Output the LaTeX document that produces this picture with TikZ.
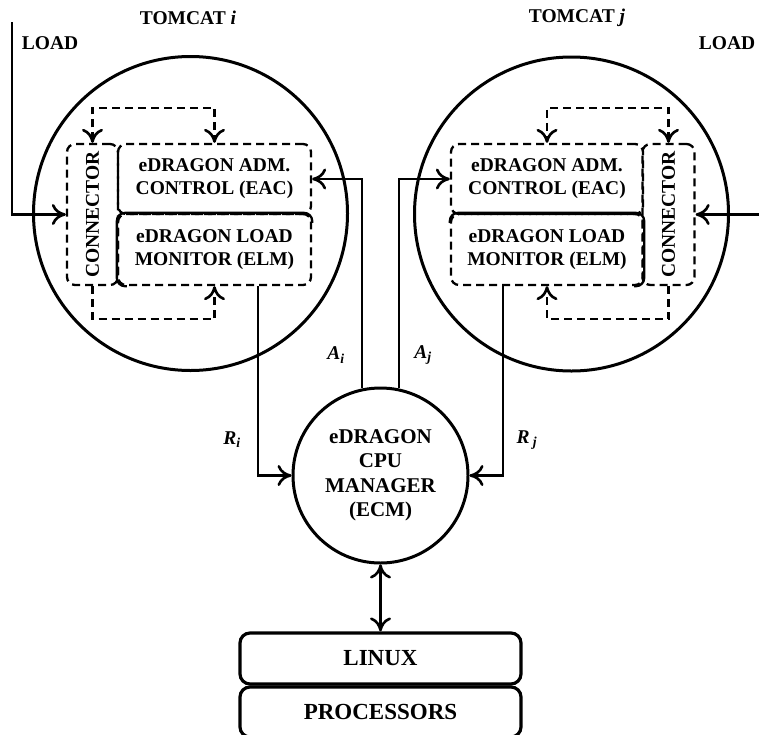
\documentclass[tikz,border=0pt]{standalone}
\usepackage{fontspec}
\setmainfont{Liberation Serif}
\usetikzlibrary{arrows.meta}
\begin{document}
\begin{tikzpicture}[x=1pt,y=-1pt,
  >={Computer Modern Rightarrow[length=14pt,width=21pt,line width=2.6pt]},
  big/.style={circle, draw, line width=3pt, minimum size=314pt, inner sep=0pt},
  ecmc/.style={circle, draw, line width=3pt, minimum size=175pt, inner sep=0pt, align=center,
    font=\fontsize{21}{24.5}\selectfont\bfseries},
  dbox/.style={draw, line width=2.3pt, dash pattern=on 8pt off 5pt, rounded corners=8pt,
    inner sep=0pt, align=center, font=\fontsize{19.5}{23}\selectfont\bfseries},
  sbox/.style={draw, line width=3.2pt, rounded corners=10pt, minimum width=281pt,
    inner sep=0pt, font=\fontsize{23}{27}\selectfont\bfseries},
  lbl/.style={inner sep=0pt, font=\fontsize{19.5}{23}\selectfont\bfseries},
  conn/.style={line width=2.2pt, ->},
  dloop/.style={line width=2.3pt, dash pattern=on 8pt off 5pt},
  solidedge/.style={line width=2.3pt, rounded corners=8pt}
]
\useasboundingbox (0,0) rectangle (759,734);

% big circles
\node[big] (tomi) at (190.5,213.5) {};
\node[big] (tomj) at (571.5,214) {};
\node[ecmc] (ecm) at (380.5,475.5) {eDRAGON\\CPU\\MANAGER\\(ECM)};

% inner boxes, left
\node[dbox, minimum width=51pt, minimum height=141pt] (conni) at (92.5,214.5) {};
\node[lbl, rotate=90] (conntxti) at (conni.center) {CONNECTOR};
\node[dbox, minimum width=193pt, minimum height=70pt] (eaci) at (214.5,179) {eDRAGON ADM.\\CONTROL (EAC)};
\node[dbox, minimum width=193pt, minimum height=71pt] (elmi) at (214.5,249.5) {eDRAGON LOAD\\MONITOR (ELM)};
\draw[solidedge] ([xshift=10pt]elmi.south west) -- (elmi.south west) -- (elmi.north west)
  -- (elmi.north east) -- ([yshift=-10pt]elmi.north east);

% inner boxes, right
\node[dbox, minimum width=52pt, minimum height=141pt] (connj) at (668.5,214.5) {};
\node[lbl, rotate=90] (conntxtj) at (connj.center) {CONNECTOR};
\node[dbox, minimum width=192pt, minimum height=70pt] (eacj) at (547,179) {eDRAGON ADM.\\CONTROL (EAC)};
\node[dbox, minimum width=192pt, minimum height=71pt] (elmj) at (547,249.5) {eDRAGON LOAD\\MONITOR (ELM)};
\draw[solidedge] ([xshift=-10pt]elmj.south east) -- (elmj.south east) -- (elmj.north east)
  -- (elmj.north west) -- ([yshift=-10pt]elmj.north west);

% OS boxes
\node[sbox, minimum height=51pt] (linux) at (380.5,658.5) {LINUX};
\node[sbox, minimum height=50pt] (proc) at (380.5,712) {PROCESSORS};

% dashed loops
\draw[dloop, <->] (conni.north) -- ++(0,-35) -| (eaci.north);
\draw[dloop, ->] (conni.south) -- ++(0,33) -| (elmi.south);
\draw[dloop, <->] (connj.north) -- ++(0,-35) -| (eacj.north);
\draw[dloop, ->] (connj.south) -- ++(0,33) -| (elmj.south);

% LOAD inputs
\coordinate (loadi) at (12,22);
\coordinate (loadj) at (760,214.5);
\draw[conn] (loadi) |- (conni.west);
\draw[conn] (loadj) -- (connj.east);

% manager connections
\draw[conn] (ecm.102) |- (eaci.east);
\draw[conn] (ecm.78) |- (eacj.west);
\draw[conn] ([xshift=43.5pt]elmi.south) |- (ecm.west);
\draw[conn] ([xshift=-44pt]elmj.south) |- (ecm.east);
\draw[line width=2.2pt, <->] (ecm.south) -- (linux.north);

% labels
\node[lbl] (ldi) at (50,43) {LOAD};
\node[lbl] (ldj) at (727,43) {LOAD};
\node[lbl] (tci) at (188,18) {TOMCAT \textit{i}};
\node[lbl] (tcj) at (577,18) {TOMCAT \textit{j}};
\node[lbl] (ai) at (336,355) {\textit{A\textsubscript{i}}};
\node[lbl] (aj) at (423,355) {\textit{A\textsubscript{j}}};
\node[lbl] (ri) at (232,440) {\textit{R\textsubscript{i}}};
\node[lbl] (rj) at (527,440) {\textit{R\,\textsubscript{j}}};
\end{tikzpicture}
\end{document}
